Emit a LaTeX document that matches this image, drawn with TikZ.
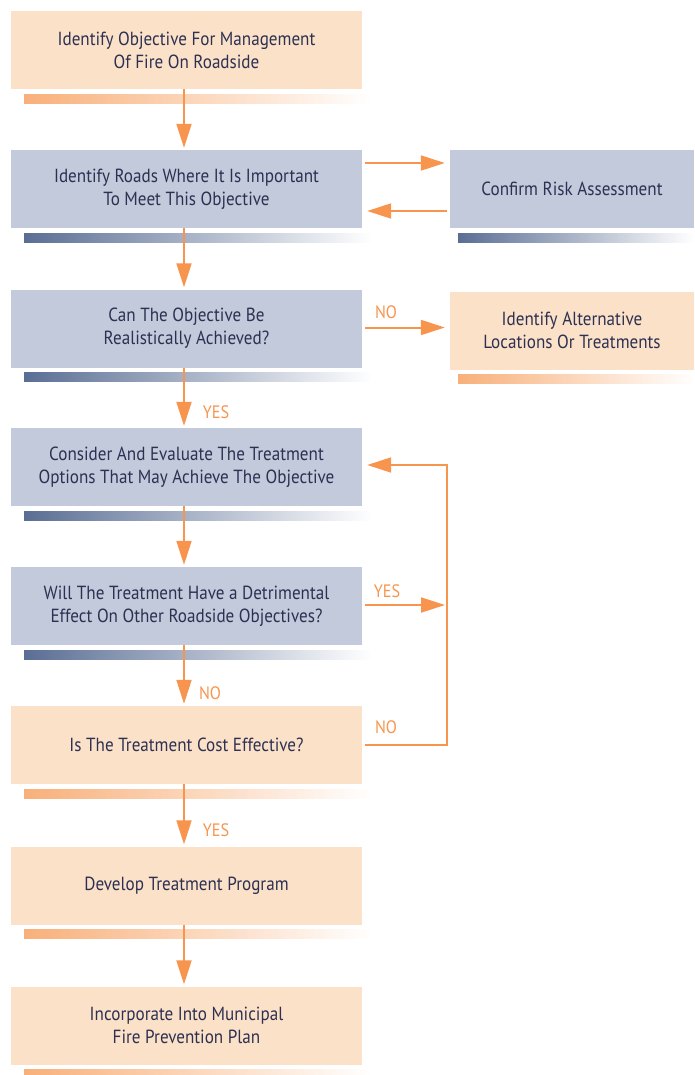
\documentclass[tikz,border=0pt]{standalone}
\usepackage{fontspec}
\setmainfont{PT Sans}[FakeStretch=0.9]
\usetikzlibrary{arrows.meta}
\definecolor{peach}{HTML}{FCE1C9}
\definecolor{slate}{HTML}{C2CADC}
\definecolor{ink}{HTML}{2C3152}
\definecolor{flow}{HTML}{F7944E}
\definecolor{barorange}{HTML}{F8B07A}
\definecolor{barblue}{HTML}{5A6E94}

\begin{document}
\begin{tikzpicture}[x=1pt,y=-1pt,
  stage/.style={minimum width=351pt, minimum height=78pt, inner sep=0pt,
    font=\fontsize{19}{23}\selectfont, text=ink, align=center},
  side/.style={stage, minimum width=244pt},
  warm/.style={fill=peach},
  cool/.style={fill=slate},
  arr/.style={draw=flow, line width=2pt,
    -{Triangle[length=24pt,width=15pt]}},
  tag/.style={font=\fontsize{18}{20}\selectfont, text=flow, inner sep=0pt}
]
\useasboundingbox (0,0) rectangle (694,1075);

% main column of steps
\node[stage, warm] (b1) at (186.5,50)   {Identify Objective For Management\\Of Fire On Roadside};
\node[stage, cool] (b2) at (186.5,189)  {Identify Roads Where It Is Important\\To Meet This Objective};
\node[stage, cool] (b3) at (186.5,328.5){Can The Objective Be\\Realistically Achieved?};
\node[stage, cool] (b4) at (186.5,467)  {Consider And Evaluate The Treatment\\Options That May Achieve The Objective};
\node[stage, cool] (b5) at (186.5,606)  {Will The Treatment Have a Detrimental\\Effect On Other Roadside Objectives?};
\node[stage, warm] (b6) at (186.5,745)  {Is The Treatment Cost Effective?};
\node[stage, warm] (b7) at (186.5,885.5){Develop Treatment Program};
\node[stage, warm] (b8) at (186.5,1025.5){Incorporate Into Municipal\\Fire Prevention Plan};

% side steps
\node[side, cool] (r2) at (572,189)   {Confirm Risk Assessment};
\node[side, warm] (r3) at (572,330.5) {Identify Alternative\\Locations Or Treatments};

% fading bars under each step
\foreach \n/\c in {b1/barorange,b2/barblue,b3/barblue,b4/barblue,b5/barblue,b6/barorange,b7/barorange,b8/barorange}{
  \shade[left color=\c, right color=white]
    ([yshift=-5pt]\n.south west -| 24,0) rectangle ([yshift=-14pt]\n.south west -| 372,0);
}
\foreach \n/\c in {r2/barblue,r3/barorange}{
  \shade[left color=\c, right color=white]
    ([yshift=-5pt]\n.south west -| 458,0) rectangle ([yshift=-14pt]\n.south west -| 694,0);
}

% return rail on the right
\coordinate (rail) at (447,0);

% connectors down the column
\foreach \a/\b in {b1/b2,b2/b3,b3/b4,b4/b5,b5/b6,b6/b7,b7/b8}{
  \draw[arr, shorten >=2pt] ([xshift=-2.5pt]\a.south) -- ([xshift=-2.5pt]\b.north);
}

% exchange with the risk assessment
\draw[arr, shorten <=3pt, shorten >=5pt] ([yshift=26pt]b2.east) -- ([yshift=26pt]b2.east -| r2.west);
\draw[arr, shorten <=3pt, shorten >=5pt] ([yshift=-22pt]r2.west) -- ([yshift=-22pt]r2.west -| b2.east);

% not achievable
\draw[arr, shorten <=3pt, shorten >=5pt] ([yshift=1pt]b3.east) -- ([yshift=1pt]b3.east -| r3.west);

% detrimental effect back to the options
\draw[arr, shorten <=3pt, shorten >=2pt] ([yshift=1pt]b5.east) -- ([yshift=1pt]b5.east -| rail);
\draw[arr, shorten <=3pt, shorten >=5pt] (b6.east) -- (b6.east -| rail) |- ([yshift=2pt]b4.east);

% branch labels
\node[tag] (l1) at (386,312) {NO};
\node[tag] (l2) at (216,412) {YES};
\node[tag] (l3) at (387,591) {YES};
\node[tag] (l4) at (210,693) {NO};
\node[tag] (l5) at (386,727) {NO};
\node[tag] (l6) at (216,830) {YES};
\end{tikzpicture}
\end{document}
